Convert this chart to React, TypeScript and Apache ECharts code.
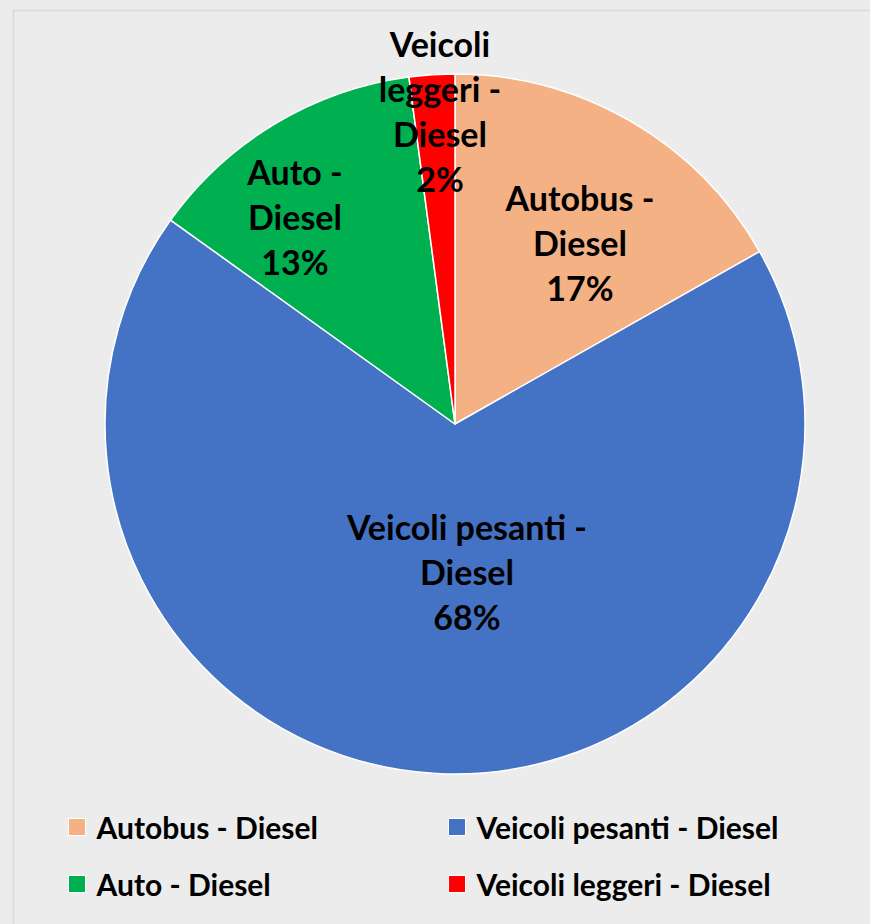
import React, { useEffect, useRef } from "react";
import * as echarts from "echarts";

const categories = [
  "Autobus - Diesel",
  "Veicoli pesanti - Diesel",
  "Auto - Diesel",
  "Veicoli leggeri - Diesel",
];
const labelTexts = [
  "Autobus -\nDiesel",
  "Veicoli pesanti -\nDiesel",
  "Auto -\nDiesel",
  "Veicoli\nleggeri -\nDiesel",
];
const values = [16.8, 68.1, 13.0, 2.1];
const colors = ["#F4B183", "#4472C4", "#00B050", "#FF0000"];
// label centre positions (layout only)
const labelPos = [
  [580, 242],
  [467, 571],
  [295, 216],
  [440, 111],
];

const FONT = "Lato, 'Open Sans', sans-serif";

const legendText = {
  fontFamily: FONT,
  fontWeight: "bold",
  fontSize: 30,
  lineHeight: 30,
  color: "#000",
  padding: [0, 0, 0, 6],
};

export default function App() {
  const ref = useRef<HTMLDivElement>(null);
  useEffect(() => {
    const chart = echarts.init(ref.current!, undefined, { renderer: "svg" });
    chart.setOption({
      animation: false,
      backgroundColor: "#ECECEC",
      graphic: [
        {
          type: "rect",
          shape: { x: 13.5, y: 10.5, width: 900, height: 950 },
          style: { fill: "none", stroke: "#D9D9D9", lineWidth: 1.5 },
          silent: true,
        },
      ],
      legend: [
        {
          orient: "vertical",
          left: 68,
          top: 812,
          padding: 0,
          itemWidth: 17,
          itemHeight: 17,
          itemGap: 27,
          icon: "rect",
          data: [categories[0], categories[2]],
          itemStyle: { borderColor: "#FFFFFF", borderWidth: 1 },
          textStyle: legendText,
        },
        {
          orient: "vertical",
          left: 448,
          top: 812,
          padding: 0,
          itemWidth: 17,
          itemHeight: 17,
          itemGap: 27,
          icon: "rect",
          data: [categories[1], categories[3]],
          itemStyle: { borderColor: "#FFFFFF", borderWidth: 1 },
          textStyle: legendText,
        },
      ],
      series: [
        {
          type: "pie",
          center: [455, 424],
          radius: 350,
          startAngle: 90,
          clockwise: true,
          percentPrecision: 0,
          itemStyle: { borderColor: "#FFFFFF", borderWidth: 1.5 },
          label: {
            show: true,
            position: "inside",
            fontFamily: FONT,
            fontWeight: "bold",
            fontSize: 34,
            lineHeight: 45,
            color: "#000",
            align: "center",
            formatter: (p: any) => labelTexts[p.dataIndex] + "\n" + p.percent + "%",
          },
          labelLine: { show: false },
          labelLayout: (p: any) => ({
            x: labelPos[p.dataIndex][0],
            y: labelPos[p.dataIndex][1],
            align: "center",
            verticalAlign: "middle",
          }),
          data: categories.map((c, i) => ({
            name: c,
            value: values[i],
            itemStyle: { color: colors[i] },
          })),
        },
      ],
    });
    return () => chart.dispose();
  }, []);
  return (
    <div
      ref={ref}
      style={{ position: "fixed", left: 0, top: 0, width: 870, height: 924 }}
    />
  );
}
